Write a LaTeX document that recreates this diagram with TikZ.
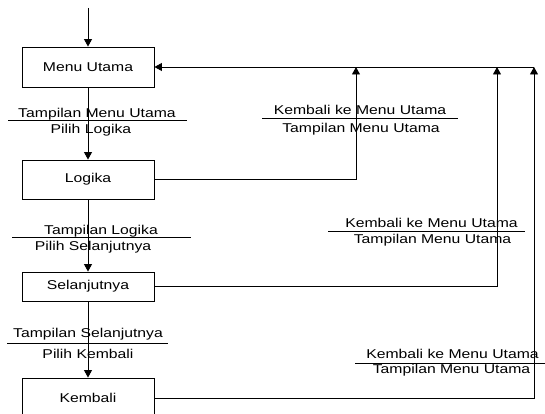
\documentclass[tikz,border=0pt]{standalone}
\usepackage{fontspec}
\usepackage{graphicx}
\setmainfont{Liberation Sans}
\usetikzlibrary{arrows.meta}
\newcommand\widetext[1]{\scalebox{1.23}[1]{#1}}
\tikzset{
  state/.style={draw, line width=0.9pt, minimum width=132pt, inner sep=0pt,
    font=\fontsize{12.8}{14}\selectfont},
  lbl/.style={inner sep=0pt, anchor=base, font=\fontsize{12.8}{14}\selectfont},
  flow/.style={line width=0.9pt},
  arr/.style={flow, -{Triangle[length=7.5pt,width=8pt]}},
  rule/.style={line width=0.9pt}
}
\begin{document}
\begin{tikzpicture}[x=1pt,y=-1pt]
\useasboundingbox (0,0) rectangle (545,414);
\clip (0,0) rectangle (545,414);

% states
\node[state, minimum height=40pt] (menu) at (88,67) {\widetext{Menu Utama}};
\node[state, minimum height=39pt] (logika) at (88,179.5) {\widetext{Logika}};
\node[state, minimum height=29pt] (selan) at (88,286.5) {\widetext{Selanjutnya}};
\node[state, minimum height=40pt] (kembali) at (88,398) {\widetext{Kembali}};

% entry
\coordinate (start) at (88,8);
\draw[arr] (start) -- (menu.north);

% forward flow
\draw[arr] (menu.south) -- (logika.north);
\draw[arr] (logika.south) -- (selan.north);
\draw[arr] (selan.south) -- (kembali.north);

% return bus
\coordinate (r1) at (356,67);
\coordinate (r2) at (497,67);
\coordinate (r3) at (534,67);
\draw[arr] (r3) -- (menu.east);
\draw[arr] (logika.east) -| (r1);
\draw[arr] (selan.east) -| (r2);
\draw[arr] (kembali.east) -| (r3);

% labels on forward flow
\node[lbl] (a1) at (97,117.5) {\widetext{Tampilan Menu Utama}};
\draw[rule] (8,120) -- (187,120);
\node[lbl] (a2) at (91,134) {\widetext{Pilih Logika}};

\node[lbl] (b1) at (101,234) {\widetext{Tampilan Logika}};
\draw[rule] (12,237) -- (191,237);
\node[lbl] (b2) at (93,250) {\widetext{Pilih Selanjutnya}};

\node[lbl] (c1) at (88,337) {\widetext{Tampilan Selanjutnya}};
\draw[rule] (7,343) -- (168,343);
\node[lbl] (c2) at (88,358) {\widetext{Pilih Kembali}};

% labels on return flow
\node[lbl] (d1) at (360,115) {\widetext{Kembali ke Menu Utama}};
\draw[rule] (262,118) -- (458,118);
\node[lbl] (d2) at (361,132) {\widetext{Tampilan Menu Utama}};

\node[lbl] (e1) at (431.5,227) {\widetext{Kembali ke Menu Utama}};
\draw[rule] (328,231) -- (525,231);
\node[lbl] (e2) at (432.5,243) {\widetext{Tampilan Menu Utama}};

\node[lbl] (f1) at (452.5,358) {\widetext{Kembali ke Menu Utama}};
\draw[rule] (355,363) -- (545,363);
\node[lbl] (f2) at (451.5,373) {\widetext{Tampilan Menu Utama}};
\end{tikzpicture}
\end{document}
